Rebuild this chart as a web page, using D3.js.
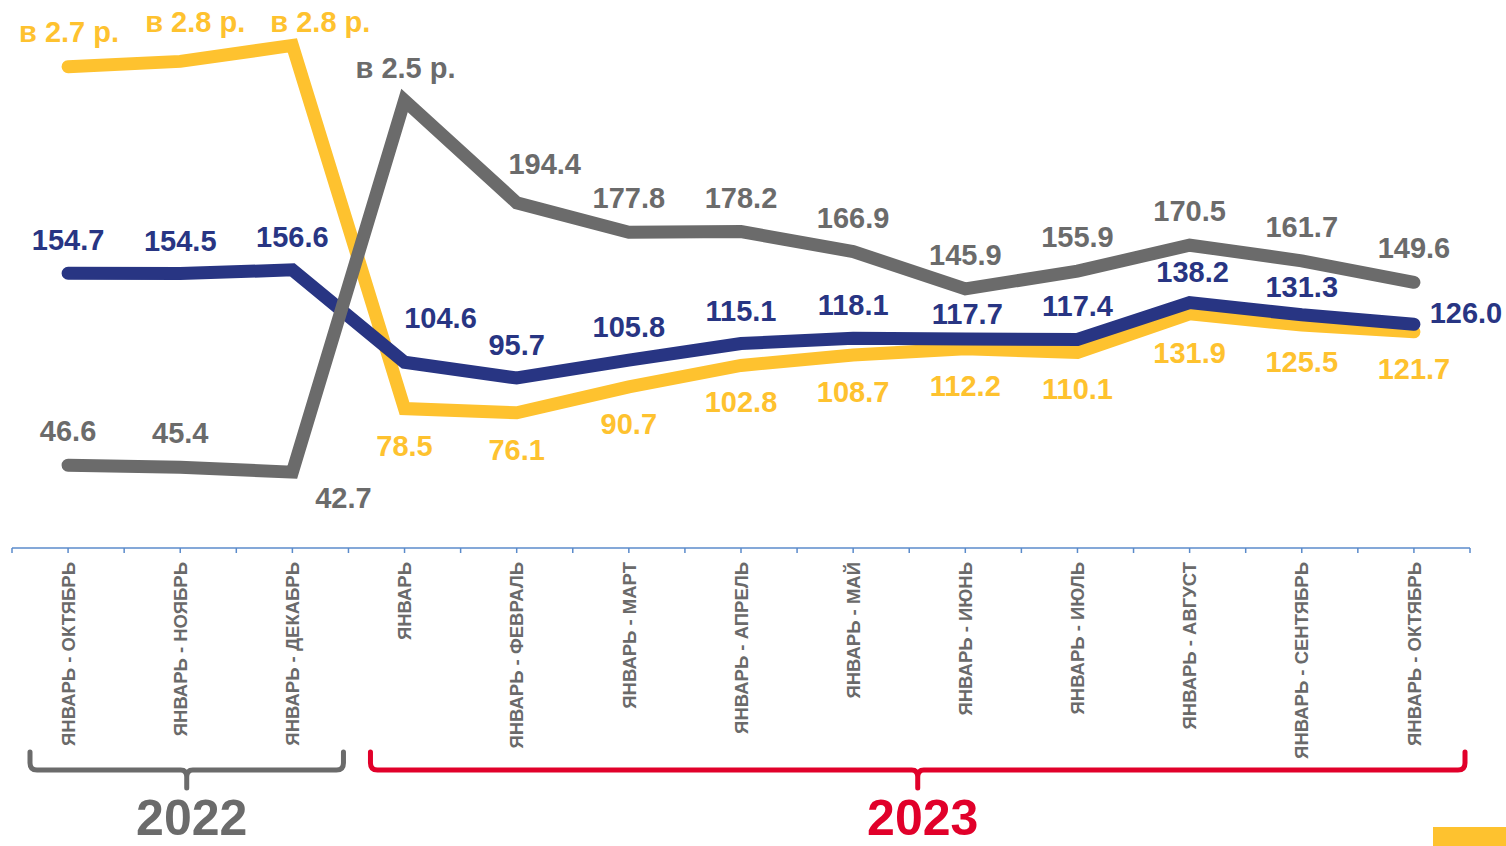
<!DOCTYPE html>
<html>
<head>
<meta charset="utf-8">
<script src="https://cdn.jsdelivr.net/npm/d3@7"></script>
<style>
    body { margin: 0; background: #fff; }
    svg { display: block; font-family: "Liberation Sans", Arial, sans-serif; }
</style>
</head>
<body>
<div id="visContainer"></div>
<script>
'use strict';

// categories (bottom axis)
var categories = [
    "ЯНВАРЬ - ОКТЯБРЬ", "ЯНВАРЬ - НОЯБРЬ", "ЯНВАРЬ - ДЕКАБРЬ",
    "ЯНВАРЬ", "ЯНВАРЬ - ФЕВРАЛЬ", "ЯНВАРЬ - МАРТ", "ЯНВАРЬ - АПРЕЛЬ",
    "ЯНВАРЬ - МАЙ", "ЯНВАРЬ - ИЮНЬ", "ЯНВАРЬ - ИЮЛЬ", "ЯНВАРЬ - АВГУСТ",
    "ЯНВАРЬ - СЕНТЯБРЬ", "ЯНВАРЬ - ОКТЯБРЬ"
];

// series values (% to same period); the "в N р." points are estimated from the picture
var yellowValues = [271, 274, 283, 78.5, 76.1, 90.7, 102.8, 108.7, 112.2, 110.1, 131.9, 125.5, 121.7];
var blueValues = [154.7, 154.5, 156.6, 104.6, 95.7, 105.8, 115.1, 118.1, 117.7, 117.4, 138.2, 131.3, 126.0];
var grayValues = [46.6, 45.4, 42.7, 252, 194.4, 177.8, 178.2, 166.9, 145.9, 155.9, 170.5, 161.7, 149.6];

// value labels
var yellowLabels = ["в 2.7 р.", "в 2.8 р.", "в 2.8 р.", "78.5", "76.1", "90.7", "102.8", "108.7", "112.2", "110.1", "131.9", "125.5", "121.7"];
var blueLabels = ["154.7", "154.5", "156.6", "104.6", "95.7", "105.8", "115.1", "118.1", "117.7", "117.4", "138.2", "131.3", "126.0"];
var grayLabels = ["46.6", "45.4", "42.7", "в 2.5 р.", "194.4", "177.8", "178.2", "166.9", "145.9", "155.9", "170.5", "161.7", "149.6"];

// year groups: [first index, last index, label]
var yearGroups = [[0, 2, "2022"], [3, 12, "2023"]];

var width = 1506;
var height = 846;

var YELLOW = "#FEC22F";
var BLUE = "#283583";
var GRAY = "#6B6B6B";
var RED = "#E1002A";
var AXIS = "#5B8BCB";

var svg = d3.select("#visContainer")
    .append("svg")
    .attr("width", width)
    .attr("height", height);

var x = d3.scaleBand()
    .domain(d3.range(categories.length))
    .range([12, 1470])
    .paddingInner(0)
    .paddingOuter(0);

var y = d3.scaleLinear()
    .domain([0, 300])
    .range([548, 548 - 300 * 1.776]);

function cx(i) { return x(i) + x.bandwidth() / 2; }

// axis line and ticks (at band edges and centres)
svg.append("line")
    .attr("x1", 12).attr("x2", 1470)
    .attr("y1", y(0)).attr("y2", y(0))
    .style("stroke", AXIS).style("stroke-width", 1.5);

var tickXs = [];
for (var i = 0; i < categories.length; i++) {
    tickXs.push(x(i));
    tickXs.push(cx(i));
}
tickXs.push(x(categories.length - 1) + x.bandwidth());

svg.selectAll(".tick")
    .data(tickXs)
  .enter().append("line")
    .attr("class", "tick")
    .attr("x1", function(d) { return d; })
    .attr("x2", function(d) { return d; })
    .attr("y1", y(0))
    .attr("y2", y(0) + 5)
    .style("stroke", AXIS).style("stroke-width", 1.5);

svg.selectAll(".cat")
    .data(categories)
  .enter().append("text")
    .attr("class", "cat")
    .attr("transform", function(d, i) { return "translate(" + cx(i) + ",562) rotate(-90)"; })
    .attr("dy", "0.36em")
    .attr("text-anchor", "end")
    .style("font-size", "18.5px")
    .style("font-weight", "bold")
    .style("fill", "#6A6A6A")
    .text(function(d) { return d; });

// lines
var line = d3.line()
    .x(function(d, i) { return cx(i); })
    .y(function(d) { return y(d); });

function drawSeries(values, color) {
    svg.append("path")
        .datum(values)
        .attr("d", line)
        .style("fill", "none")
        .style("stroke", color)
        .style("stroke-width", 13)
        .style("stroke-linecap", "round")
        .style("stroke-linejoin", "miter");
}

drawSeries(yellowValues, YELLOW);
drawSeries(blueValues, BLUE);
drawSeries(grayValues, GRAY);

// labels: default baseline offset from point, plus a few hand placed ones
function drawLabels(values, labels, color, baseDy, shifts) {
    svg.append("g").selectAll("text")
        .data(labels)
      .enter().append("text")
        .attr("x", function(d, i) { return cx(i) + (shifts[i] ? shifts[i][0] : 0); })
        .attr("y", function(d, i) { return y(values[i]) + (shifts[i] ? shifts[i][1] : baseDy); })
        .attr("text-anchor", "middle")
        .style("font-size", "29px")
        .style("font-weight", "bold")
        .style("fill", color)
        .text(function(d) { return d; });
}

drawLabels(yellowValues, yellowLabels, YELLOW, 47, {0: [1, -25], 1: [15, -29], 2: [28, -13], 10: [0, 49]});
drawLabels(blueValues, blueLabels, BLUE, -23, {3: [36, -34], 8: [2, -15], 10: [3, -21], 11: [0, -18], 12: [52, -1]});
drawLabels(grayValues, grayLabels, GRAY, -24, {2: [51, 36], 3: [1, -22], 4: [28, -29]});

// year brackets
yearGroups.forEach(function(g) {
    var color = g[2] == "2022" ? GRAY : RED;
    var x0 = x(g[0]) + 18;
    var x1 = x(g[1]) + x.bandwidth() - 5;
    if (g[0] > 0) { x0 = x(g[0]) + 22; }
    var mid = (x0 + x1) / 2;
    var top = 752, bot = 770, r = 7;
    var p = d3.path();
    p.moveTo(x0, top);
    p.lineTo(x0, bot - r);
    p.quadraticCurveTo(x0, bot, x0 + r, bot);
    p.lineTo(mid - 6, bot);
    p.quadraticCurveTo(mid, bot, mid, bot + 7);
    p.lineTo(mid, bot + 18);
    p.moveTo(mid, bot + 7);
    p.quadraticCurveTo(mid, bot, mid + 6, bot);
    p.lineTo(x1 - r, bot);
    p.quadraticCurveTo(x1, bot, x1, bot - r);
    p.lineTo(x1, top);
    svg.append("path")
        .attr("d", p.toString())
        .style("fill", "none")
        .style("stroke", color)
        .style("stroke-width", 5)
        .style("stroke-linecap", "round");
    svg.append("text")
        .attr("x", mid + 5)
        .attr("y", 835)
        .attr("text-anchor", "middle")
        .style("font-size", "50px")
        .style("font-weight", "bold")
        .style("fill", color)
        .text(g[2]);
});

// legend swatch fragment at the bottom right
svg.append("rect")
    .attr("x", 1433).attr("y", 827)
    .attr("width", 73).attr("height", 19)
    .style("fill", YELLOW);
</script>
</body>
</html>
